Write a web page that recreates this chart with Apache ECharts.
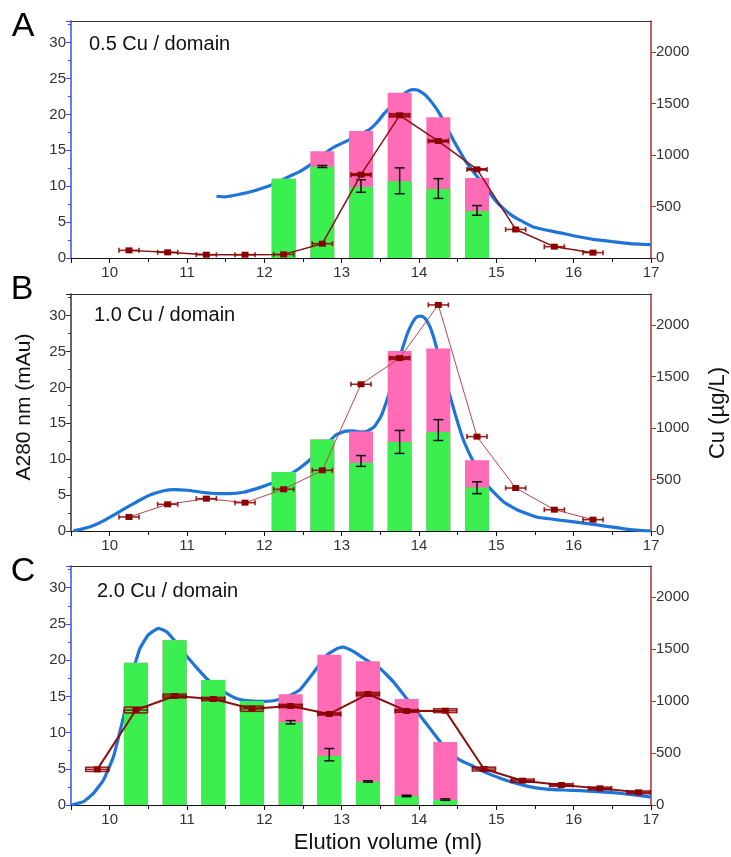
<!DOCTYPE html>
<html>
<head>
<meta charset="utf-8">
<script src="https://cdn.jsdelivr.net/npm/echarts@6/dist/echarts.min.js"></script>
<style>
html,body{margin:0;padding:0;background:#fff;}
#chart{width:731px;height:857px;}
</style>
</head>
<body>
<div id="chart"></div>
<script>
// ---------------- DATA ----------------
const xTickLabels = [10, 11, 12, 13, 14, 15, 16, 17];
const panelLetters = ['A', 'B', 'C'];
const panelLabels = ['0.5 Cu / domain', '1.0 Cu / domain', '2.0 Cu / domain'];

// Panel A
const a280A_x = [11.38, 11.49, 11.6, 11.73, 11.85, 11.97, 12.1, 12.22, 12.33, 12.45, 12.57, 12.69, 12.81, 12.93, 13.05, 13.17, 13.27, 13.36, 13.45, 13.54, 13.63, 13.72, 13.8, 13.87, 13.93, 13.98, 14.03, 14.08, 14.17, 14.26, 14.35, 14.44, 14.53, 14.62, 14.71, 14.8, 14.89, 14.98, 15.1, 15.19, 15.28, 15.37, 15.46, 15.64, 15.83, 16.0, 16.25, 16.49, 16.73, 17.0];
const a280A_y = [8.6, 8.5, 8.7, 9.0, 9.3, 9.7, 10.2, 10.8, 11.4, 12.0, 12.8, 13.8, 14.8, 15.6, 16.2, 16.9, 17.4, 17.9, 18.8, 20.0, 21.0, 22.0, 22.8, 23.3, 23.45, 23.4, 23.1, 22.7, 21.6, 20.2, 18.4, 16.5, 14.8, 13.2, 11.9, 10.7, 9.4, 8.1, 6.8, 6.0, 5.4, 4.9, 4.4, 3.9, 3.5, 3.1, 2.6, 2.3, 2.0, 1.85];
const barA_x = [12.25, 12.75, 13.25, 13.75, 14.25, 14.75];
const greenA = [11.05, 12.7, 9.9, 10.7, 9.6, 6.55];
const totalA = [11.05, 14.85, 17.7, 23.0, 19.6, 11.15];
const errLowA = [null, 12.6, 9.15, 8.95, 8.3, 5.95];
const errHighA = [null, 12.88, 10.9, 12.55, 11.05, 7.3];
const cuA_x = [10.25, 10.75, 11.25, 11.75, 12.25, 12.75, 13.25, 13.75, 14.25, 14.75, 15.25, 15.75, 16.25];
const cuA = [74, 55, 32, 32, 35, 139, 809, 1385, 1135, 860, 277, 110, 52];
const cuErrA = [0, 0, 0, 0, 0, 0, 8, 15, 8, 6, 0, 0, 0];
const cuVolErrA = 0.13;

// Panel B
const a280B_x = [9.53, 9.65, 9.8, 9.9, 10.0, 10.16, 10.34, 10.52, 10.7, 10.83, 11.0, 11.19, 11.37, 11.55, 11.73, 11.9, 12.09, 12.27, 12.45, 12.63, 12.81, 12.93, 13.05, 13.15, 13.23, 13.33, 13.42, 13.51, 13.6, 13.69, 13.78, 13.85, 13.9, 13.95, 13.99, 14.04, 14.08, 14.14, 14.2, 14.29, 14.38, 14.47, 14.56, 14.65, 14.74, 14.83, 14.92, 15.1, 15.28, 15.52, 15.83, 16.13, 16.43, 16.73, 17.0];
const a280B_y = [0, 0.3, 0.8, 1.3, 1.9, 2.9, 4.0, 5.0, 5.6, 5.76, 5.67, 5.4, 5.2, 5.2, 5.4, 5.9, 6.6, 7.5, 8.7, 10.3, 12.2, 13.4, 13.9, 13.95, 13.8, 13.9, 14.5, 16.0, 18.7, 22.0, 25.2, 27.5, 28.7, 29.6, 29.9, 29.9, 29.6, 28.5, 26.6, 23.0, 19.6, 16.2, 13.1, 10.8, 8.9, 7.2, 5.9, 4.0, 2.9, 1.95, 1.5, 1.1, 0.65, 0.2, 0];
const barB_x = [12.25, 12.75, 13.25, 13.75, 14.25, 14.75];
const greenB = [8.22, 12.73, 9.5, 12.4, 13.8, 6.05];
const totalB = [8.22, 12.73, 13.84, 25.08, 25.4, 9.85];
const errLowB = [null, null, 9.0, 10.8, 12.6, 5.2];
const errHighB = [null, null, 10.5, 14.0, 15.5, 6.85];
const cuB_x = [10.25, 10.75, 11.25, 11.75, 12.25, 12.75, 13.25, 13.75, 14.25, 14.75, 15.25, 15.75, 16.25];
const cuB = [136, 259, 314, 275, 405, 589, 1424, 1678, 2194, 916, 417, 207, 110];
const cuErrB = [0, 0, 0, 0, 0, 0, 0, 12, 0, 0, 0, 0, 0];
const cuVolErrB = 0.13;

// Panel C
const a280C_x = [9.51, 9.66, 9.79, 9.92, 10.05, 10.18, 10.28, 10.39, 10.5, 10.63, 10.74, 10.87, 11.0, 11.13, 11.25, 11.38, 11.51, 11.64, 11.77, 11.94, 12.12, 12.29, 12.46, 12.63, 12.81, 12.94, 13.02, 13.15, 13.28, 13.5, 13.67, 13.84, 14.01, 14.19, 14.36, 14.53, 14.71, 14.88, 15.05, 15.22, 15.44, 15.65, 15.87, 16.08, 16.3, 16.51, 16.73, 16.94, 17.0];
const a280C_y = [0, 0.46, 1.6, 3.45, 6.7, 12.2, 17.7, 21.6, 23.5, 24.4, 23.9, 22.3, 20.5, 18.9, 17.5, 16.3, 15.4, 14.7, 14.4, 14.3, 14.4, 14.9, 15.9, 18.2, 20.7, 21.6, 21.8, 21.2, 20.3, 18.8, 17.0, 14.7, 12.4, 9.9, 7.6, 6.2, 5.3, 4.4, 3.7, 3.1, 2.5, 2.2, 2.07, 1.98, 1.84, 1.7, 1.47, 1.2, 1.1];
const barC_x = [10.34, 10.84, 11.34, 11.84, 12.34, 12.84, 13.34, 13.84, 14.34];
const greenC = [19.65, 22.75, 17.27, 14.36, 11.42, 6.81, 3.22, 1.24, 0.69];
const totalC = [19.65, 22.75, 17.27, 14.36, 15.29, 20.76, 19.85, 14.64, 8.7];
const errLowC = [null, null, null, null, 11.2, 6.1, 3.15, 1.15, 0.65];
const errHighC = [null, null, null, null, 11.65, 7.8, 3.35, 1.35, 0.85];
const cuC_x = [9.84, 10.34, 10.84, 11.34, 11.84, 12.34, 12.84, 13.34, 13.84, 14.34, 14.84, 15.34, 15.84, 16.34, 16.84];
const cuC = [343, 914, 1049, 1020, 927, 953, 876, 1068, 905, 908, 346, 234, 192, 160, 122];
const cuErrC = [20, 28, 18, 15, 25, 15, 10, 15, 12, 18, 18, 15, 12, 12, 12];
const cuVolErrC = 0.15;

// ---------------- BUILD ----------------
const FONT = '"Liberation Sans", Arial, sans-serif';
const panels = [
  {ax: a280A_x, ay: a280A_y, bx: barA_x, g: greenA, t: totalA, lo: errLowA, hi: errHighA, cx: cuA_x, cy: cuA, ce: cuErrA, cv: cuVolErrA},
  {ax: a280B_x, ay: a280B_y, bx: barB_x, g: greenB, t: totalB, lo: errLowB, hi: errHighB, cx: cuB_x, cy: cuB, ce: cuErrB, cv: cuVolErrB},
  {ax: a280C_x, ay: a280C_y, bx: barC_x, g: greenC, t: totalC, lo: errLowC, hi: errHighC, cx: cuC_x, cy: cuC, ce: cuErrC, cv: cuVolErrC}
];
const grids = [
  {left: 71, top: 21, width: 580, height: 237},
  {left: 71, top: 294, width: 580, height: 237},
  {left: 71, top: 566, width: 580, height: 239}
];
const leftAxisColors = ['#3a4dff', '#333333', '#3a4dff'];
const cuLineColors = ['#8b1010', '#b04a4a', '#8b1010'];
const cuLineWidths = [1.5, 1, 2];
const RED = '#8b0000';
const AXRED = '#a8332b';
const LABEL = '#333';

const xAxes = [], yAxes = [], series = [];
const zip = (a, b) => a.map((v, i) => [v, b[i]]);

function errRender(params, api) {
  const x = api.value(0), lo = api.value(1), hi = api.value(2);
  const p1 = api.coord([x, lo]), p2 = api.coord([x, hi]);
  const w = 5, st = {stroke: '#111', lineWidth: 1.5};
  return {type: 'group', children: [
    {type: 'line', shape: {x1: p1[0], y1: p1[1], x2: p2[0], y2: p2[1]}, style: st},
    {type: 'line', shape: {x1: p1[0] - w, y1: p1[1], x2: p1[0] + w, y2: p1[1]}, style: st},
    {type: 'line', shape: {x1: p2[0] - w, y1: p2[1], x2: p2[0] + w, y2: p2[1]}, style: st}
  ]};
}
function cuErrRender(params, api) {
  const x = api.value(0), y = api.value(1), ye = api.value(2), xe = api.value(3);
  const pL = api.coord([x - xe, y]), pR = api.coord([x + xe, y]);
  const pt = api.coord([x, y + ye]), pb = api.coord([x, y - ye]);
  const st = {stroke: RED, lineWidth: 1.6, opacity: 0.85};
  const ch = [{type: 'line', shape: {x1: pL[0], y1: pL[1], x2: pR[0], y2: pR[1]}, style: st}];
  let t = pt[1], b = pb[1];
  if (b - t < 5) { const m = pL[1]; t = Math.min(t, m - 2.5); b = Math.max(b, m + 2.5); }
  ch.push({type: 'line', shape: {x1: pL[0], y1: t, x2: pL[0], y2: b}, style: st});
  ch.push({type: 'line', shape: {x1: pR[0], y1: t, x2: pR[0], y2: b}, style: st});
  if (ye > 0) {
    ch.push({type: 'line', shape: {x1: pL[0], y1: pt[1], x2: pR[0], y2: pt[1]}, style: st});
    ch.push({type: 'line', shape: {x1: pL[0], y1: pb[1], x2: pR[0], y2: pb[1]}, style: st});
  }
  return {type: 'group', children: ch};
}

panels.forEach((p, i) => {
  const lc = leftAxisColors[i];
  xAxes.push({
    gridIndex: i, type: 'value', min: 9.5, max: 17, splitNumber: 8, position: 'bottom',
    axisLine: {show: true, onZero: false, lineStyle: {color: '#111', width: 1.2}},
    axisTick: {show: true, inside: false, length: 5, lineStyle: {color: '#111'}},
    minorTick: {show: true, splitNumber: 2, length: 4, lineStyle: {color: '#111'}},
    axisLabel: {show: true, showMinLabel: false, fontSize: 15, color: LABEL, margin: 7, fontFamily: FONT,
      formatter: v => (xTickLabels.indexOf(v) >= 0 ? String(v) : '')},
    splitLine: {show: false}
  });
  xAxes.push({
    gridIndex: i, type: 'value', min: 9.5, max: 17, position: 'top',
    axisLine: {show: true, onZero: false, lineStyle: {color: '#333', width: 1.2}},
    axisTick: {show: false}, axisLabel: {show: false}, splitLine: {show: false}
  });
  yAxes.push({
    gridIndex: i, type: 'value', min: 0, max: 33, interval: 5, position: 'left',
    axisLine: {show: true, onZero: false, lineStyle: {color: lc, width: 1.5}},
    axisTick: {show: true, length: 5, lineStyle: {color: lc}},
    minorTick: {show: true, splitNumber: 2, length: 3, lineStyle: {color: lc}},
    axisLabel: {showMaxLabel: false, fontSize: 15, color: LABEL, margin: 5, fontFamily: FONT, formatter: v => String(v)},
    splitLine: {show: false}
  });
  yAxes.push({
    gridIndex: i, type: 'value', min: 0, max: 2300, interval: 500, position: 'right',
    axisLine: {show: true, onZero: false, lineStyle: {color: AXRED, width: 1.5}},
    axisTick: {show: true, length: 5, lineStyle: {color: AXRED}},
    axisLabel: {showMaxLabel: false, fontSize: 15, color: LABEL, margin: 5, fontFamily: FONT, formatter: v => String(v)},
    splitLine: {show: false}
  });
  const xi = 2 * i, yl = 2 * i, yr = 2 * i + 1;
  series.push({
    type: 'line', xAxisIndex: xi, yAxisIndex: yl, data: zip(p.ax, p.ay), showSymbol: false, symbol: 'none',
    smooth: 0.12, lineStyle: {color: '#1f74d8', width: 3.2}, z: 1, silent: true
  });
  // total fraction (pink) with its green part drawn over it
  series.push({
    type: 'bar', xAxisIndex: xi, yAxisIndex: yl, barWidth: 24, barGap: '-100%',
    data: zip(p.bx, p.t), itemStyle: {color: '#ff6bb5'}, z: 2, silent: true
  });
  series.push({
    type: 'bar', xAxisIndex: xi, yAxisIndex: yl, barWidth: 24, barGap: '-100%',
    data: zip(p.bx, p.g), itemStyle: {color: '#3bef50'}, z: 2, silent: true
  });
  const errData = [];
  p.bx.forEach((x, k) => { if (p.lo[k] != null) errData.push([x, p.lo[k], p.hi[k]]); });
  series.push({
    type: 'custom', xAxisIndex: xi, yAxisIndex: yl, data: errData, renderItem: errRender,
    encode: {x: 0, y: [1, 2]}, z: 3, silent: true
  });
  series.push({
    type: 'line', xAxisIndex: xi, yAxisIndex: yr, data: zip(p.cx, p.cy), symbol: 'rect', symbolSize: [7, 6],
    itemStyle: {color: RED}, lineStyle: {color: cuLineColors[i], width: cuLineWidths[i]}, z: 4, silent: true
  });
  series.push({
    type: 'custom', xAxisIndex: xi, yAxisIndex: yr, data: p.cx.map((x, k) => [x, p.cy[k], p.ce[k], p.cv]),
    renderItem: cuErrRender, encode: {x: 0, y: 1}, z: 5, silent: true
  });
});

const graphic = [];
const letterPos = [[23, 27], [22, 290], [23, 572]];
const labelPos = [[89, 44], [94, 315], [97, 591]];
panelLetters.forEach((L, i) => {
  graphic.push({type: 'text', x: letterPos[i][0], y: letterPos[i][1], style: {text: L, font: '34px ' + FONT, fill: '#000', textAlign: 'center', textVerticalAlign: 'middle'}});
  graphic.push({type: 'text', x: labelPos[i][0], y: labelPos[i][1], style: {text: panelLabels[i], font: '20px ' + FONT, fill: '#111', textAlign: 'left', textVerticalAlign: 'middle'}});
});
graphic.push({type: 'text', x: 24, y: 407, rotation: Math.PI / 2, style: {text: 'A280 nm (mAu)', font: '21px ' + FONT, fill: '#111', textAlign: 'center', textVerticalAlign: 'middle'}});
graphic.push({type: 'text', x: 718, y: 413, rotation: Math.PI / 2, style: {text: 'Cu (µg/L)', font: '22px ' + FONT, fill: '#111', textAlign: 'center', textVerticalAlign: 'middle'}});
graphic.push({type: 'text', x: 388, y: 843, style: {text: 'Elution volume (ml)', font: '22px ' + FONT, fill: '#111', textAlign: 'center', textVerticalAlign: 'middle'}});

const chart = echarts.init(document.getElementById('chart'), null, {renderer: 'canvas'});
chart.setOption({
  animation: false,
  backgroundColor: '#fff',
  textStyle: {fontFamily: FONT},
  grid: grids,
  xAxis: xAxes,
  yAxis: yAxes,
  series: series,
  graphic: graphic
});
</script>
</body>
</html>
